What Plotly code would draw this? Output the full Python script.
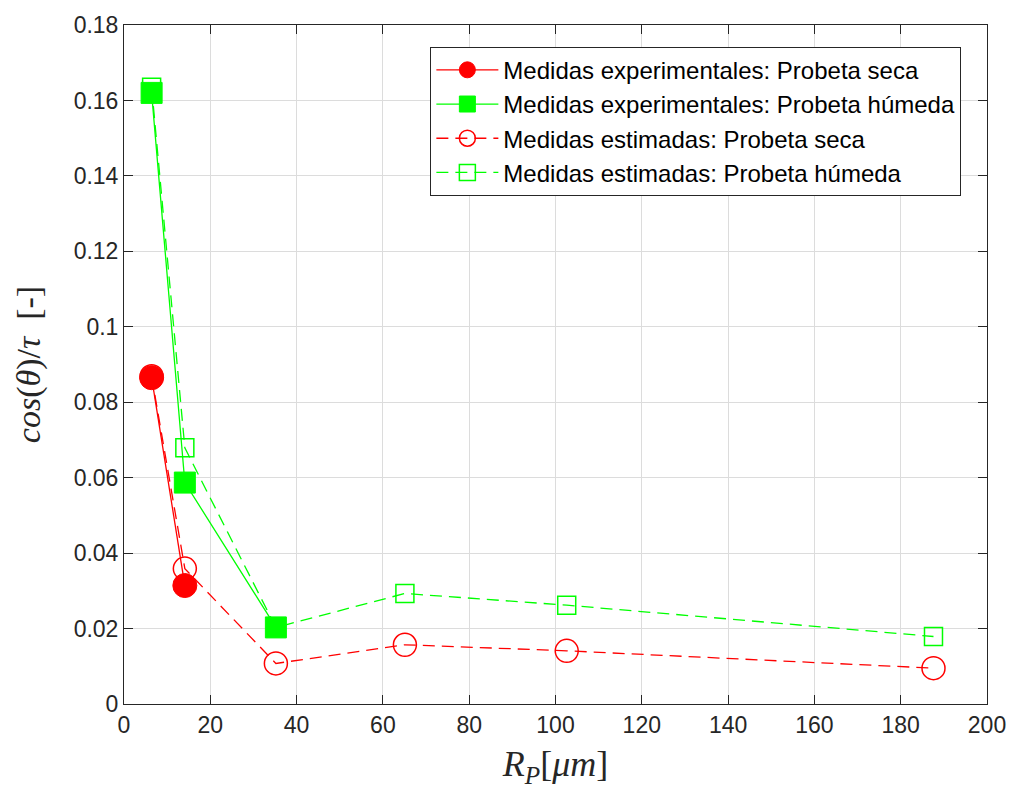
import plotly.graph_objects as go

# Data
x_exp = [6.4, 14.1]
y_exp_seca = [0.0865, 0.0314]
x_exp_h = [6.4, 14.1, 35.2]
y_exp_humeda = [0.162, 0.0587, 0.0203]
x_est = [6.4, 14.1, 35.2, 65.1, 102.6, 187.6]
y_est_seca = [0.0869, 0.0359, 0.01075, 0.0157, 0.0141, 0.0095]
y_est_humeda = [0.1635, 0.0679, 0.0203, 0.0293, 0.0262, 0.0179]

names = ["Medidas experimentales: Probeta seca",
         "Medidas experimentales: Probeta húmeda",
         "Medidas estimadas: Probeta seca",
         "Medidas estimadas: Probeta húmeda"]

RED = "#ff0000"
GREEN = "#00ff00"

fig = go.Figure()
fig.add_trace(go.Scatter(x=x_exp, y=y_exp_seca, name=names[0], mode="lines+markers",
                         line=dict(color=RED, width=1.3),
                         marker=dict(symbol="circle", size=24, color=RED, line=dict(color=RED, width=1))))
fig.add_trace(go.Scatter(x=x_exp_h, y=y_exp_humeda, name=names[1], mode="lines+markers",
                         line=dict(color=GREEN, width=1.3),
                         marker=dict(symbol="square", size=21, color=GREEN, line=dict(color=GREEN, width=1))))
fig.add_trace(go.Scatter(x=x_est, y=y_est_seca, name=names[2], mode="lines+markers",
                         line=dict(color=RED, width=1.3, dash="12px,7px"),
                         marker=dict(symbol="circle-open", size=23, color=RED, line=dict(color=RED, width=1.5))))
fig.add_trace(go.Scatter(x=x_est, y=y_est_humeda, name=names[3], mode="lines+markers",
                         line=dict(color=GREEN, width=1.3, dash="12px,7px"),
                         marker=dict(symbol="square-open", size=18, color=GREEN, line=dict(color=GREEN, width=1.5))))

axis_common = dict(showline=True, linecolor="#262626", linewidth=1, mirror="ticks",
                   ticks="inside", ticklen=9, tickcolor="#262626",
                   showgrid=True, gridcolor="#dcdcdc", gridwidth=1, zeroline=False,
                   tickfont=dict(family="Liberation Sans, Arial", size=23, color="#262626"))

fig.update_xaxes(range=[0, 200], dtick=20, tick0=0,
                 title=dict(text="<i>R</i><sub><i>P</i></sub>[<i>μm</i>]",
                            font=dict(family="Liberation Serif, Times New Roman", size=36, color="#262626"),
                            standoff=14),
                 **axis_common)
fig.update_yaxes(range=[0, 0.18], dtick=0.02, tick0=0,
                 title=dict(text="<i>cos</i>(<i>θ</i>)/<i>τ</i>  [-]",
                            font=dict(family="Liberation Serif, Times New Roman", size=34, color="#262626"),
                            standoff=22),
                 **axis_common)

fig.update_layout(
    width=1018, height=792,
    margin=dict(l=124, r=27, t=20, b=88),
    paper_bgcolor="white", plot_bgcolor="white",
    showlegend=True,
    legend=dict(x=0.355, y=0.968, xanchor="left", yanchor="top",
                bgcolor="white", bordercolor="#262626", borderwidth=1,
                font=dict(family="Liberation Sans, Arial", size=24, color="black"),
                tracegroupgap=0, itemsizing="trace", itemwidth=62),
)

fig.write_html("out.html")
